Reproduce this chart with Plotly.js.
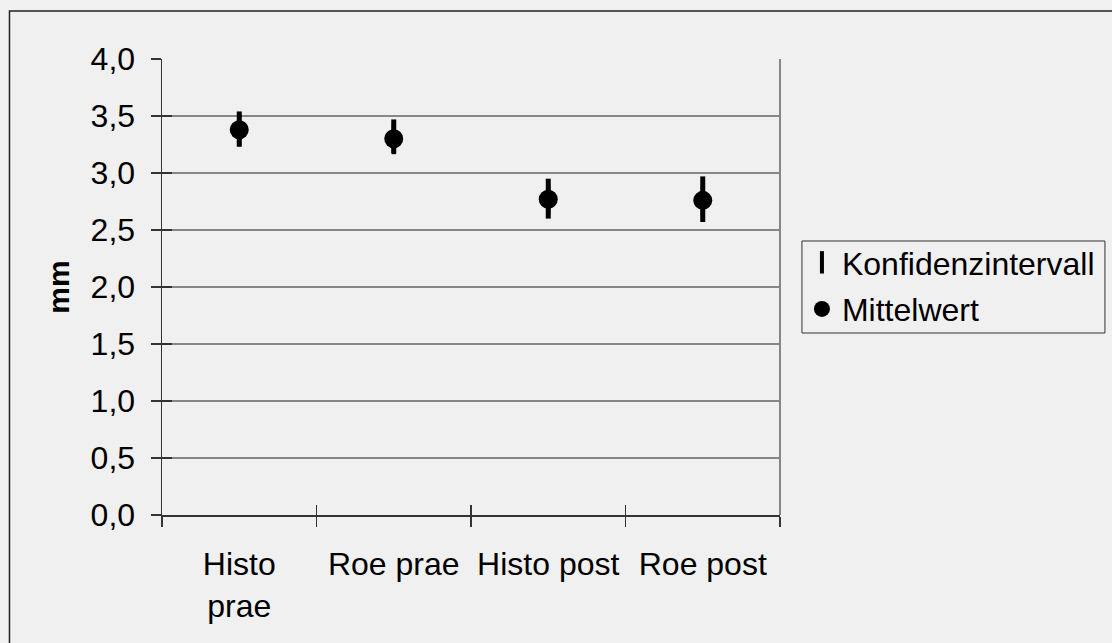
<!DOCTYPE html>
<html>
<head>
<meta charset="utf-8">
<script src="https://cdn.plot.ly/plotly-3.0.1.min.js"></script>
<style>
html,body{margin:0;padding:0;background:#f0f0f0;overflow:hidden;}
#chart{width:1112px;height:643px;}
</style>
</head>
<body>
<div id="chart"></div>
<script>
const categories = ["Histo<br>prae", "Roe prae", "Histo post", "Roe post"];
const meanValues = [3.38, 3.30, 2.77, 2.76];
const upperValues = [3.54, 3.47, 2.95, 2.97];
const lowerValues = [3.23, 3.17, 2.60, 2.57];
const yTickValues = [0, 0.5, 1, 1.5, 2, 2.5, 3, 3.5, 4];

const errPlus = upperValues.map((u, i) => u - meanValues[i]);
const errMinus = lowerValues.map((l, i) => meanValues[i] - l);

const font = "Liberation Sans, Arial, sans-serif";
const fs = 32;

const traces = [
  {
    type: "scatter", mode: "markers", name: "Konfidenzintervall",
    legendgroup: "ci",
    x: categories, y: meanValues,
    marker: {symbol: "line-ns-open", size: 22, color: "#000", line: {width: 4, color: "#000"}},
    error_y: {type: "data", symmetric: false, array: errPlus, arrayminus: errMinus,
              color: "#000", thickness: 5, width: 0},
    hoverinfo: "skip"
  },
  {
    type: "scatter", mode: "markers", name: "Mittelwert",
    legendgroup: "mw",
    x: categories, y: meanValues,
    marker: {symbol: "circle", size: 19, color: "#000"}
  },
  {
    type: "scatter", mode: "markers", x: categories, y: meanValues,
    xaxis: "x2", yaxis: "y2", showlegend: false, hoverinfo: "skip",
    marker: {opacity: 0}
  }
];

const layout = {
  width: 1112, height: 643,
  paper_bgcolor: "#f0f0f0", plot_bgcolor: "#f0f0f0",
  margin: {l: 162, r: 330, t: 59, b: 128, pad: 0},
  separators: ",.",
  font: {family: font, size: fs, color: "#000"},
  showlegend: true,
  legend: {
    x: 1.0355, y: 0.614, xanchor: "left", yanchor: "top",
    bgcolor: "rgba(0,0,0,0)", borderwidth: 0,
    font: {family: font, size: fs, color: "#000"},
    traceorder: "grouped", tracegroupgap: 2,
    itemwidth: 30
  },
  xaxis: {
    type: "category", range: [-0.5, 3.5], fixedrange: true,
    showline: true, linecolor: "#333", linewidth: 1.5,
    ticks: "outside", ticklen: 10, tickwidth: 1.2, tickcolor: "#333",
    tickson: "boundaries", showgrid: false, zeroline: false,
    tickfont: {family: font, size: fs, color: "#000"},
    ticklabelstandoff: 20
  },
  yaxis: {
    range: [0, 4], tickvals: yTickValues, tickformat: ".1f", fixedrange: true,
    showline: true, linecolor: "#333", linewidth: 1.5,
    ticks: "outside", ticklen: 10, tickwidth: 1.2, tickcolor: "#333",
    showgrid: true, gridcolor: "#868686", gridwidth: 2, zeroline: false,
    tickfont: {family: font, size: fs, color: "#000"},
    ticklabelstandoff: 9,
    title: {text: "<b>mm</b>", font: {family: font, size: 30, color: "#000"}, standoff: 12}
  },
  xaxis2: {
    type: "category", range: [-0.5, 3.5], overlaying: "x",
    ticks: "inside", ticklen: 10, tickwidth: 1.2, tickcolor: "#333",
    tickson: "boundaries", showticklabels: false, showgrid: false, zeroline: false,
    showline: false, fixedrange: true
  },
  yaxis2: {
    range: [0, 4], tickvals: yTickValues, overlaying: "y",
    ticks: "inside", ticklen: 10, tickwidth: 1.2, tickcolor: "#333",
    showticklabels: false, showgrid: false, zeroline: false, showline: false, fixedrange: true
  },
  shapes: [
    {type: "line", xref: "paper", yref: "paper", x0: 1, x1: 1, y0: 0, y1: 1,
     line: {color: "#868686", width: 2}, layer: "below"},
    {type: "rect", xref: "paper", yref: "paper", x0: -0.2468, x1: 1.7, y0: -0.5, y1: 1.105,
     line: {color: "#222", width: 1.5}, fillcolor: "rgba(0,0,0,0)", layer: "below"},
    {type: "rect", xref: "paper", yref: "paper", x0: 1.0355, x1: 1.5258, y0: 0.3991, y1: 0.6009,
     line: {color: "#333", width: 1}, fillcolor: "rgba(0,0,0,0)", layer: "below"}
  ]
};

Plotly.newPlot("chart", traces, layout, {displayModeBar: false, staticPlot: true});
</script>
</body>
</html>
